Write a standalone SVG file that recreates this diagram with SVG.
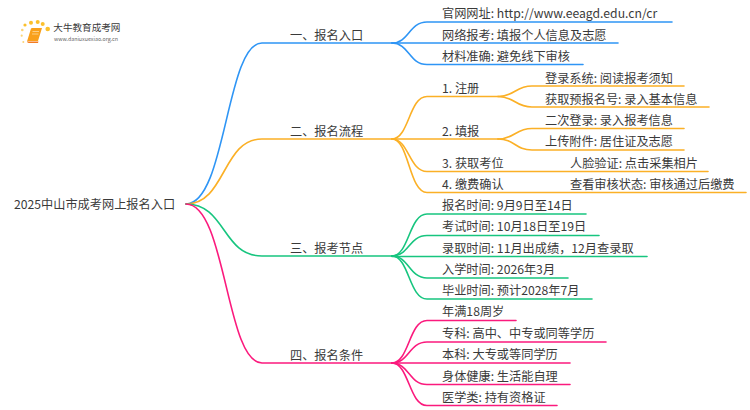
<svg xmlns="http://www.w3.org/2000/svg" width="750" height="410" viewBox="0 0 750 410">
<style>
text{font-family:"Noto Sans CJK SC","Noto Sans",sans-serif;font-size:12.2px;fill:#3a3a3a}
.c{fill:none;stroke-width:1.6;stroke-linecap:round}
.b{stroke:#2e95f5}.o{stroke:#fbb026}.g{stroke:#17c57f}.p{stroke:#fb1a7d}
</style>
<defs><linearGradient id="fade"><stop offset="0" stop-color="#bbb"/><stop offset="1" stop-color="#fff"/></linearGradient></defs>
<rect width="750" height="410" fill="#fff"/>
<g id="logo">
<g fill="#fbc02d"><circle cx="31" cy="22.700" r="2"/><circle cx="37.700" cy="22" r="2"/><circle cx="42.700" cy="24" r="2"/><circle cx="47.700" cy="29" r="2.300"/><circle cx="25" cy="25" r="1.600"/></g>
<g fill="#fbd476"><circle cx="22.300" cy="30" r="1.300"/><circle cx="21.700" cy="35.700" r="1.100"/><circle cx="23.300" cy="42" r="1"/></g>
<path d="M31 28.500Q31.500 28 32 28H42L38 41H29L27 41.500Z" fill="#f9a01b"/><path d="M27 41.500Q27.500 43 29 43H38L38.500 41.500H29Z" fill="#f47b20"/><path d="M32.500 31.500H39M32 34H38.500" stroke="#fde3b0" stroke-width=".7"/>
<text x="53.300" y="31" style="font-size:9.600px">大牛教育成考网</text>
<path d="M53 33.500H133" stroke="url(#fade)" stroke-width=".6" fill="none"/>
<text x="54" y="40.500" style="font-size:5.300px;fill:#666">www.daniuxuexiao.org.cn</text>
</g>
<g id="connectors">
<path class="c b" d="M186 204C226 204 226 43 262 43H392"/>
<path class="c b" d="M392 43C409 43 409 22 427 22H672"/>
<path class="c b" d="M392 43H618"/>
<path class="c b" d="M392 43C409 43 409 64.500 427 64.500H583"/>
<path class="c o" d="M186 204C226 204 222 139 262 139H392"/>
<path class="c o" d="M392 139C409 139 409 96.500 427 96.500H498"/>
<path class="c o" d="M392 139H498"/>
<path class="c o" d="M392 139C409 139 409 171.500 427 171.500H708"/>
<path class="c o" d="M392 139C409 139 409 192.500 427 192.500H746"/>
<path class="c o" d="M498 96.500C515 96.500 515 86 532 86H684"/>
<path class="c o" d="M498 96.500C515 96.500 515 107 532 107H709"/>
<path class="c o" d="M498 139C515 139 515 128.500 532 128.500H684"/>
<path class="c o" d="M498 139C515 139 515 150 532 150H684"/>
<path class="c g" d="M186 204C226 204 222 256 262 256H392"/>
<path class="c g" d="M392 256C409 256 409 214 427 214H586"/>
<path class="c g" d="M392 256C409 256 409 235.500 427 235.500H599"/>
<path class="c g" d="M392 256.500H647"/>
<path class="c g" d="M392 256C409 256 409 278 427 278H568"/>
<path class="c g" d="M392 256C409 256 409 299 427 299H592"/>
<path class="c p" d="M186 204C226 204 226 363 262 363H392"/>
<path class="c p" d="M392 363C409 363 409 320.500 427 320.500H516"/>
<path class="c p" d="M392 363C409 363 409 342 427 342H606"/>
<path class="c p" d="M392 363H570"/>
<path class="c p" d="M392 363C409 363 409 384.500 427 384.500H570"/>
<path class="c p" d="M392 363C409 363 409 405.500 427 405.500H557"/>
</g>
<g id="root"><text x="14" y="209">2025中山市成考网上报名入口</text></g>
<g id="n1"><text x="290" y="39.500">一、报名入口</text></g>
<g id="n2"><text x="290" y="135.500">二、报名流程</text></g>
<g id="n3"><text x="290" y="253">三、报考节点</text></g>
<g id="n4"><text x="290" y="359.500">四、报名条件</text></g>
<g id="n1-1"><text x="442" y="18">官网网址: http://www.eeagd.edu.cn/cr</text></g>
<g id="n1-2"><text x="442" y="39.500">网络报考: 填报个人信息及志愿</text></g>
<g id="n1-3"><text x="442" y="60.500">材料准确: 避免线下审核</text></g>
<g id="n2-1"><text x="442" y="93">1. 注册</text></g>
<g id="n2-2"><text x="442" y="135.500">2. 填报</text></g>
<g id="n2-3"><text x="442" y="167.500">3. 获取考位</text></g>
<g id="n2-4"><text x="442" y="188.500">4. 缴费确认</text></g>
<g id="n2-1-1"><text x="545" y="82.500">登录系统: 阅读报考须知</text></g>
<g id="n2-1-2"><text x="545" y="103.500">获取预报名号: 录入基本信息</text></g>
<g id="n2-2-1"><text x="545" y="125">二次登录: 录入报考信息</text></g>
<g id="n2-2-2"><text x="545" y="146">上传附件: 居住证及志愿</text></g>
<g id="n2-3-1"><text x="570" y="167.500">人脸验证: 点击采集相片</text></g>
<g id="n2-4-1"><text x="570" y="188.500">查看审核状态: 审核通过后缴费</text></g>
<g id="n3-1"><text x="442" y="210">报名时间: 9月9日至14日</text></g>
<g id="n3-2"><text x="442" y="231">考试时间: 10月18日至19日</text></g>
<g id="n3-3"><text x="442" y="252.500">录取时间: 11月出成绩，12月查录取</text></g>
<g id="n3-4"><text x="442" y="274">入学时间: 2026年3月</text></g>
<g id="n3-5"><text x="442" y="295">毕业时间: 预计2028年7月</text></g>
<g id="n4-1"><text x="442" y="316">年满18周岁</text></g>
<g id="n4-2"><text x="442" y="338">专科: 高中、中专或同等学历</text></g>
<g id="n4-3"><text x="442" y="359">本科: 大专或等同学历</text></g>
<g id="n4-4"><text x="442" y="380.500">身体健康: 生活能自理</text></g>
<g id="n4-5"><text x="442" y="401.500">医学类: 持有资格证</text></g>
</svg>
